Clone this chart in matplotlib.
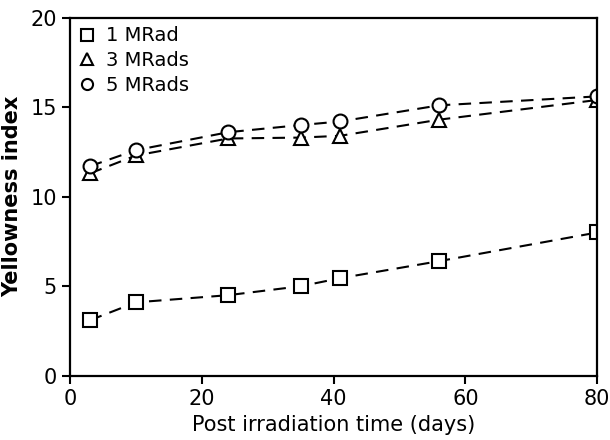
import matplotlib

matplotlib.use("Agg", force=True)

import matplotlib.pyplot as plt  # noqa: E402

# Post irradiation time (days)
days = [3, 10, 24, 35, 41, 56, 80]

# Yellowness index per dose
yi_1mrad = [3.1, 4.1, 4.5, 5.0, 5.45, 6.4, 8.0]
yi_3mrad = [11.3, 12.3, 13.25, 13.3, 13.4, 14.3, 15.4]
yi_5mrad = [11.7, 12.6, 13.6, 14.0, 14.2, 15.1, 15.6]

labels = ["1 MRad", "3 MRads", "5 MRads"]
x_ticks = [0, 20, 40, 60, 80]
y_ticks = [0, 5, 10, 15, 20]

plt.rcParams["font.family"] = ["DejaVu Sans"]

fig = plt.figure(figsize=(6.1, 4.4), dpi=100)
ax = fig.add_axes([0.115, 0.146, 0.864, 0.814])

line_kw = dict(color="black", linewidth=1.5, linestyle=(0, (6, 4)),
               markerfacecolor="white", markeredgecolor="black",
               markeredgewidth=1.5, markersize=10)

ax.plot(days, yi_1mrad, marker="s", label=labels[0], **line_kw)
ax.plot(days, yi_3mrad, marker="^", label=labels[1], **line_kw)
ax.plot(days, yi_5mrad, marker="o", label=labels[2], **line_kw)

ax.set_xlim(0, 80)
ax.set_ylim(0, 20)
ax.set_xticks(x_ticks)
ax.set_yticks(y_ticks)
ax.tick_params(direction="out", length=6, width=1.5, labelsize=15)

for side in ax.spines.values():
    side.set_linewidth(1.6)

ax.set_xlabel("Post irradiation time (days)", fontsize=15, labelpad=4)
ax.set_ylabel("Yellowness index", fontsize=15, fontweight="bold", labelpad=6)

# markers only in the legend, no line segment
handles, lbls = ax.get_legend_handles_labels()
leg = ax.legend(handles, lbls, loc="upper left", frameon=False, fontsize=14,
                handlelength=0.8, handletextpad=0.6, labelspacing=0.3,
                borderaxespad=0.05, markerscale=0.8)
for lh in leg.get_lines():
    lh.set_linestyle("none")

fig.savefig("out.png", dpi=100)
plt.close(fig)
